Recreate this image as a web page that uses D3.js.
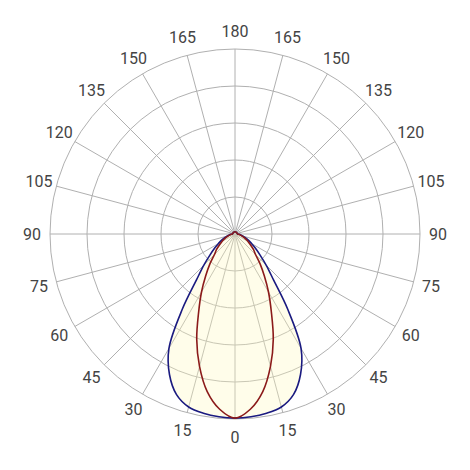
<!DOCTYPE html>
<html><head><meta charset="utf-8">
<script src="https://cdn.jsdelivr.net/npm/d3@7"></script>
<style>html,body{margin:0;padding:0;background:#fff;}</style>
</head><body>
<svg id="c" width="470" height="470"></svg>
<script>
// Angles (deg from nadir) and relative intensities (% of max ring)
const angles = [0,5,10,15,20,25,30,35,40,45,50,55,60,65,70,75,80,85,90,120,150,180];
const seriesBlue = [99.5,99.2,98.4,96.8,92.4,83.8,71.4,49.7,32.4,23.8,17.6,13.5,10.3,8.1,5.9,4.3,3.2,2.2,1.4,1.2,1.2,1.2];
const seriesRed  = [99.5,95.1,86.5,74.1,60.5,46.5,36.2,27.6,21.1,15.7,13.0,10.3,8.1,6.5,4.9,3.8,2.7,1.9,1.4,1.2,1.2,1.2];
const ringValues = [20,40,60,80,100];
const spokeAngles = d3.range(0,360,15);
const labelValues = [0,15,30,45,60,75,90,105,120,135,150,165,180,165,150,135,120,105,90,75,60,45,30,15];

const cx = 235, cy = 234, R = 185;
const svg = d3.select("#c");
const r = d3.scaleLinear().domain([0,100]).range([0,R]);
const g = svg.append("g").attr("transform",`translate(${cx},${cy})`);
const toRad = d => (180 - d) * Math.PI/180; // 0 deg = down

function fullCurve(vals){
  const pts = [];
  angles.forEach((a,i)=>pts.push([a, vals[i]]));
  for(let i=angles.length-2;i>0;i--) pts.push([360-angles[i], vals[i]]);
  return pts;
}
const line = d3.lineRadial().angle(d=>toRad(d[0])).radius(d=>r(d[1])).curve(d3.curveCatmullRomClosed.alpha(0.5));

// grid
const grid = g.append("g").attr("stroke","#b0b0b0").attr("stroke-width",1).attr("fill","none");
ringValues.forEach(v=>grid.append("circle").attr("r",r(v)));
spokeAngles.forEach(a=>{
  const t = toRad(a);
  grid.append("line").attr("x1",0).attr("y1",0)
    .attr("x2",r(100)*Math.sin(t)).attr("y2",-r(100)*Math.cos(t));
});

// fill
g.append("path").datum(fullCurve(seriesBlue)).attr("d",line)
  .attr("fill","rgb(255,248,190)").attr("fill-opacity",0.32).attr("stroke","none");

g.append("path").datum(fullCurve(seriesBlue)).attr("d",line)
  .attr("fill","none").attr("stroke","#1a1a80").attr("stroke-width",1.6);
g.append("path").datum(fullCurve(seriesRed)).attr("d",line)
  .attr("fill","none").attr("stroke","#8b1a1a").attr("stroke-width",1.6);

// labels
const lr = 203;
labelValues.forEach((v,i)=>{
  const t = toRad(i*15);
  g.append("text").attr("x",lr*Math.sin(t)).attr("y",-lr*Math.cos(t))
    .attr("text-anchor","middle").attr("dominant-baseline","central")
    .attr("font-family","Roboto, sans-serif")
    .attr("font-size",16).attr("fill","#444").text(v);
});
</script>
</body></html>
